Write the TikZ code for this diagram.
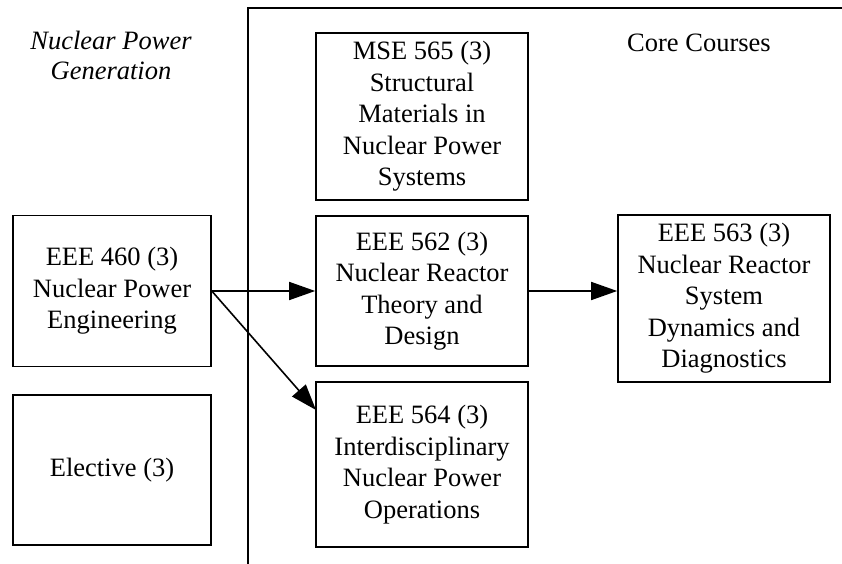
\documentclass[tikz,border=0pt]{standalone}
\usepackage{fontspec}
\setmainfont{Liberation Serif}
\usetikzlibrary{arrows.meta}
\begin{document}
\begin{tikzpicture}[x=1bp,y=-1bp,
  every node/.style={font=\fontsize{26.5bp}{31.5bp}\selectfont},
  course/.style={draw, line width=1.6bp, align=center, inner sep=0pt, minimum width=#1},
  course/.default=212bp,
  link/.style={line width=1.6bp, -{Triangle[length=26bp,width=18bp]}},
  frame/.style={line width=1.6bp}]
\useasboundingbox (0,0) rectangle (842,564);
% title
\node[font=\fontsize{26.5bp}{30bp}\selectfont\itshape, align=center, inner sep=0pt] (title) at (111,55) {Nuclear Power\\Generation};
\node[anchor=base, inner sep=0pt] (core) at (699,52) {Core Courses};
% frame
\coordinate (ftop) at (248,8);
\coordinate (fbot) at (248,564);
\coordinate (fright) at (842,8);
\draw[frame] (fbot) -- (ftop) -- (fright);
% boxes
\node[course, minimum height=167bp] (mse) at (422,116.5) {MSE 565 (3)\\Structural\\Materials in\\Nuclear Power\\Systems};
\node[course, minimum height=150bp] (e562) at (422,291) {EEE 562 (3)\\Nuclear Reactor\\Theory and\\Design};
\node[course, minimum height=165bp] (e564) at (422,464.5) {EEE 564 (3)\\Interdisciplinary\\Nuclear Power\\Operations};
\node[course=198bp, minimum height=151bp] (e460) at (112,291) {EEE 460 (3)\\Nuclear Power\\Engineering};
\node[course=198bp, minimum height=150bp] (elec) at (112,470) {Elective (3)};
\node[course, minimum height=167bp] (e563) at (724,298.5) {EEE 563 (3)\\Nuclear Reactor\\System\\Dynamics and\\Diagnostics};
% connectors
\coordinate (in564) at (316,410);
\draw[link] (e460.east) -- (e562.west);
\draw[link] (e460.east) -- (in564);
\draw[link] (e562.east) -- (e562.east -| e563.west);
\end{tikzpicture}
\end{document}
